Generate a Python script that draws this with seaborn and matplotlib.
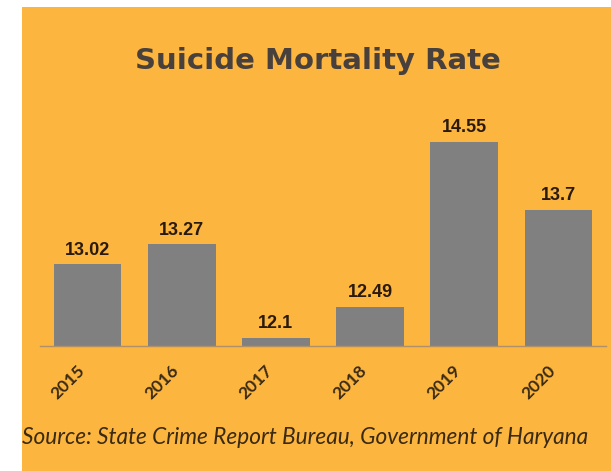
import matplotlib
matplotlib.use("Agg")
import matplotlib.pyplot as plt
import seaborn as sns
from matplotlib.patches import Rectangle

years = ["2015", "2016", "2017", "2018", "2019", "2020"]
rates = [13.02, 13.27, 12.1, 12.49, 14.55, 13.7]
title = "Suicide Mortality Rate"
source = "Source: State Crime Report Bureau, Government of Haryana"

W, H = 611, 471
ORANGE = "#FCB53E"
GRAY = "#808080"

sns.set_theme(style="white")

fig = plt.figure(figsize=(W / 100, H / 100), dpi=100)
fig.patch.set_facecolor("white")
# orange panel (white strip at left and top like the screenshot)
fig.add_artist(Rectangle((22 / W, 0), 1 - 22 / W, 1 - 7 / H,
                         transform=fig.transFigure, facecolor=ORANGE,
                         edgecolor="none", zorder=0))

# axes placed so that ylim bottom sits at the bar base
left, right = 40.4 / W, 605.6 / W
bottom = 1 - 346 / H
top = 1 - 90 / H
ax = fig.add_axes([left, bottom, right - left, top - bottom])
ax.set_facecolor("none")

sns.barplot(x=years, y=rates, color=GRAY, width=0.72, saturation=1,
            linewidth=0, ax=ax)
ax.set_xlim(-0.5, 5.5)
ax.set_ylim(12, 12 + (346 - 90) / 80)

for i, v in enumerate(rates):
    ax.annotate(f"{v:g}", (i, v), xytext=(0, 4), textcoords="offset points",
                ha="center", va="bottom", fontsize=13, fontweight="bold",
                color="#2a1a0c", family="Liberation Sans")

for s in ["top", "right", "left"]:
    ax.spines[s].set_visible(False)
ax.spines["bottom"].set_color("#b09068")
ax.spines["bottom"].set_linewidth(1)
ax.set_yticks([])
ax.set_xlabel("")
ax.set_ylabel("")
ax.tick_params(axis="x", length=0, pad=12)
for lab in ax.get_xticklabels():
    lab.set_rotation(45)
    lab.set_ha("right")
    lab.set_fontsize(12.5)
    lab.set_fontweight("bold")
    lab.set_family("Lato")
    lab.set_color("#3a2a12")

fig.text(318 / W, 1 - 61 / H, title, ha="center", va="center",
         fontsize=21, fontweight="bold", color="#48403c",
         family="DejaVu Sans")
fig.text(22 / W, 1 - 437 / H, source, ha="left", va="center",
         fontsize=16.3, style="italic", color="#3a2a12", family="Lato")

fig.savefig("out.png", dpi=100, facecolor=fig.get_facecolor())
